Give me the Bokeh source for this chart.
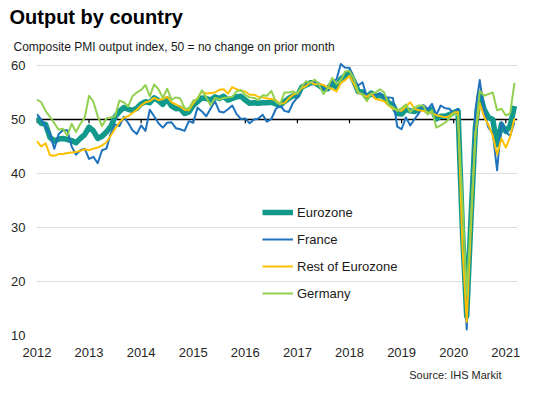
from bokeh.plotting import figure
from bokeh.models import Range1d, FixedTicker, Span, Title, Legend, LegendItem
from bokeh.embed import file_html
from bokeh.resources import INLINE

# ---------------- data (monthly, Jan 2012 .. Mar 2021) ----------------
years = ["2012", "2013", "2014", "2015", "2016", "2017", "2018", "2019", "2020", "2021"]

eurozone = [
    50.4, 49.3, 49.1, 46.7, 46.0, 46.4, 46.5, 46.3, 46.1, 45.7, 46.5, 47.2,
    48.6, 47.9, 46.5, 46.9, 47.7, 48.7, 50.5, 51.5, 52.2, 51.9, 51.7, 52.1,
    52.9, 53.3, 53.1, 54.0, 53.5, 52.8, 53.8, 52.5, 52.0, 52.1, 51.1, 51.4,
    52.6, 53.3, 54.0, 53.9, 53.6, 54.2, 53.9, 54.3, 53.6, 53.9, 54.2, 54.3,
    53.6, 53.0, 53.1, 53.0, 53.1, 53.1, 53.2, 52.9, 52.6, 53.3, 53.9, 54.4,
    54.4, 56.0, 56.4, 56.8, 56.8, 56.3, 55.7, 55.7, 56.7, 56.0, 57.5, 58.1,
    58.8, 57.1, 55.2, 55.1, 54.1, 54.9, 54.3, 54.5, 54.1, 53.1, 52.7, 51.1,
    51.0, 51.9, 51.6, 51.5, 51.8, 52.2, 51.5, 51.9, 50.1, 50.6, 50.6, 50.9,
    51.3, 51.6, 29.7, 13.6, 31.9, 48.5, 54.9, 51.9, 50.4, 50.0, 45.3, 49.1,
    47.8, 48.8, 52.5,
]

france = [
    51.0, 50.0, 48.7, 47.3, 44.6, 47.3, 48.0, 48.0, 45.0, 43.5, 44.3, 44.6,
    42.7, 43.1, 41.9, 44.3, 44.6, 47.4, 49.1, 48.8, 50.5, 49.4, 48.0, 47.3,
    48.9, 47.9, 51.8, 50.6, 49.3, 48.5, 49.4, 49.5, 48.4, 48.2, 47.9, 49.7,
    49.4, 52.2, 51.5, 50.6, 52.0, 53.4, 51.5, 51.3, 51.9, 52.6, 51.0, 50.1,
    50.2, 49.3, 50.0, 50.2, 50.9, 49.6, 50.1, 51.9, 52.7, 51.6, 51.4, 53.1,
    54.1, 55.9, 56.8, 56.6, 56.9, 56.6, 55.6, 55.6, 57.1, 57.4, 60.3, 59.6,
    59.6, 57.3, 56.3, 56.9, 54.2, 55.0, 54.4, 54.9, 54.0, 54.1, 54.0, 48.7,
    48.2, 50.4, 48.9, 50.1, 51.2, 52.7, 51.9, 52.9, 50.8, 52.6, 52.1, 52.0,
    51.1, 52.0, 28.9, 11.1, 32.1, 51.7, 57.3, 51.6, 48.5, 47.5, 40.6, 49.5,
    47.7, 47.0, 49.5,
]

rest_of_eurozone = [
    46.0, 45.0, 45.6, 43.4, 43.3, 43.6, 43.6, 43.8, 43.9, 44.0, 44.2, 44.5,
    44.3, 44.6, 44.8, 45.2, 45.8, 47.0, 48.3, 49.5, 50.3, 50.6, 51.2, 51.8,
    52.6, 53.2, 53.4, 54.0, 53.6, 53.8, 54.2, 53.2, 52.8, 52.4, 51.8, 51.7,
    53.0, 54.0, 55.2, 54.8, 54.9, 55.0, 55.5, 55.6, 54.8, 56.0, 55.6, 55.3,
    55.2, 54.6, 54.6, 54.2, 54.1, 53.9, 53.8, 53.6, 52.9, 53.0, 53.9, 54.6,
    54.9, 55.8, 56.2, 56.9, 56.5, 56.6, 56.4, 55.9, 55.7, 55.2, 56.8, 57.3,
    58.1, 56.6, 55.0, 54.6, 54.2, 54.8, 53.8, 53.6, 53.4, 52.6, 52.0, 51.8,
    51.6, 52.4, 53.2, 52.0, 51.7, 51.6, 51.3, 51.2, 50.8, 50.6, 50.4, 50.6,
    51.3, 51.4, 27.0, 12.5, 30.8, 47.5, 53.0, 50.5, 49.0, 47.0, 43.5, 46.5,
    44.8, 46.8, 50.2,
]

germany = [
    53.7, 53.2, 51.6, 50.5, 49.3, 48.1, 48.3, 47.0, 49.2, 47.7, 49.2, 50.3,
    54.4, 53.3, 50.6, 48.8, 50.2, 50.4, 50.6, 53.5, 53.2, 52.4, 54.3, 55.0,
    55.5, 56.4, 54.3, 56.5, 55.6, 54.0, 55.7, 53.7, 54.1, 53.9, 52.1, 52.0,
    53.5, 53.8, 55.4, 54.1, 52.6, 54.0, 53.7, 54.0, 54.1, 54.2, 55.2, 55.5,
    54.5, 54.1, 54.0, 53.6, 54.5, 54.4, 55.3, 53.3, 52.8, 55.0, 55.0, 55.2,
    54.8, 56.1, 57.1, 56.7, 57.4, 56.4, 54.7, 55.8, 57.7, 56.6, 57.3, 58.9,
    59.0, 57.6, 55.1, 54.6, 53.4, 54.8, 55.0, 55.6, 55.0, 52.7, 52.3, 51.6,
    52.1, 52.8, 51.4, 52.2, 52.6, 52.6, 50.9, 51.7, 48.5, 48.9, 49.4, 50.2,
    51.2, 50.7, 35.0, 17.4, 32.3, 47.0, 55.3, 54.4, 54.7, 55.0, 51.7, 52.0,
    50.8, 51.1, 56.8,
]

y_ticks = [10, 20, 30, 40, 50, 60]
grid_ticks = [10, 20, 30, 40, 60]

# month index from Jan 2012
month_index = list(range(len(eurozone)))
year_starts = [12 * i for i in range(len(years))]

FONT = "Liberation Sans"
TEAL = "#11998B"
BLUE = "#1F72BC"
YELLOW = "#FFC000"
GREEN = "#92D050"

p = figure(width=540, height=393, output_backend="svg", toolbar_location=None,
           x_range=Range1d(-0.1, 110.7), y_range=Range1d(10, 60.93),
           min_border_left=36, min_border_right=23, min_border_top=60,
           min_border_bottom=58)
p.outline_line_color = None
p.background_fill_color = "white"
p.border_fill_color = "white"

p.xgrid.visible = False
p.ygrid.ticker = FixedTicker(ticks=grid_ticks)
p.ygrid.grid_line_color = "#DEDEDE"
p.ygrid.grid_line_width = 1

p.yaxis.ticker = FixedTicker(ticks=y_ticks)
p.xaxis.ticker = FixedTicker(ticks=year_starts)
p.xaxis.major_label_overrides = {s: y for s, y in zip(year_starts, years)}
for ax in (p.xaxis[0], p.yaxis[0]):
    ax.axis_line_color = None
    ax.major_tick_line_color = None
    ax.minor_tick_line_color = None
    ax.major_label_text_font = FONT
    ax.major_label_text_font_size = "13px"
    ax.major_label_text_color = "#262626"
p.xaxis.major_label_standoff = 6
p.yaxis.major_label_standoff = 5

# 50 = no change line with yearly ticks
p.add_layout(Span(location=50, dimension="width", line_color="black",
                  line_width=1.5, level="underlay"))
p.segment(x0=year_starts, y0=[50] * len(year_starts), x1=year_starts,
          y1=[49.3] * len(year_starts), line_color="black", line_width=1.2)

r_ez = p.line(month_index, eurozone, line_color=TEAL, line_width=5.5, line_join="round")
r_fr = p.line(month_index, france, line_color=BLUE, line_width=2, line_join="round")
r_re = p.line(month_index, rest_of_eurozone, line_color=YELLOW, line_width=2, line_join="round")
r_de = p.line(month_index, germany, line_color=GREEN, line_width=2, line_join="round")

legend = Legend(items=[
    LegendItem(label="Eurozone", renderers=[r_ez]),
    LegendItem(label="France", renderers=[r_fr]),
    LegendItem(label="Rest of Eurozone", renderers=[r_re]),
    LegendItem(label="Germany", renderers=[r_de]),
], location=(226, 32), orientation="vertical", glyph_width=31, glyph_height=20,
    label_height=20, spacing=7, padding=0, margin=0, label_standoff=4,
    label_text_font=FONT, label_text_font_size="13px", label_text_color="#1a1a1a",
    border_line_color=None, background_fill_alpha=0)
p.add_layout(legend)

# titles: main title on top, subtitle just above the plot
p.title.text = "Output by country"
p.title.text_font = FONT
p.title.text_font_size = "20px"
p.title.text_font_style = "bold"
p.title.text_color = "black"
p.title.offset = -27
p.title.standoff = 6
p.add_layout(Title(text="Composite PMI output index, 50 = no change on prior month",
                   text_font=FONT, text_font_size="12px", text_font_style="normal",
                   text_color="#1a1a1a", offset=-23, standoff=14), "above")
p.add_layout(Title(text="Source: IHS Markit", align="right", text_font=FONT,
                   text_font_size="11px", text_font_style="normal", text_color="#262626",
                   offset=16, standoff=14), "below")

open("out.html", "w").write(file_html(p, INLINE))
